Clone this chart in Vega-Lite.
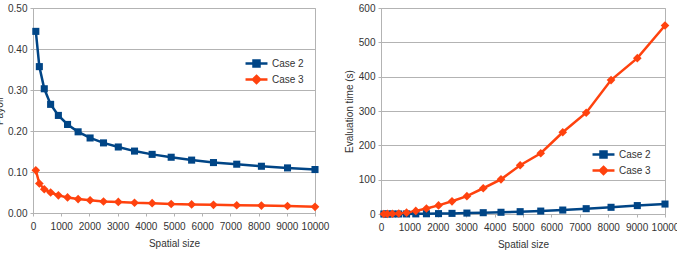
{
  "$schema": "https://vega.github.io/schema/vega-lite/v6.json",
  "padding": {"left": -6, "top": 2, "right": 0, "bottom": 0},
  "bounds": "flush",
  "spacing": 66,
  "background": "white",
  "config": {
    "font": "Liberation Sans",
    "view": {"stroke": "#b3b3b3", "strokeWidth": 1},
    "axis": {
      "labelFont": "Liberation Sans",
      "titleFont": "Liberation Sans",
      "labelFontSize": 10,
      "titleFontSize": 10,
      "titleFontWeight": "normal",
      "labelColor": "#333333",
      "titleColor": "#333333",
      "domainColor": "#b3b3b3",
      "tickColor": "#b3b3b3",
      "gridColor": "#b3b3b3",
      "tickSize": 3
    },
    "legend": {
      "labelFont": "Liberation Sans",
      "labelFontSize": 10,
      "labelColor": "#333333",
      "padding": 0
    }
  },
  "datasets": {
    "payoff": [
      {"size": 100, "series": "Case 2", "value": 0.443},
      {"size": 225, "series": "Case 2", "value": 0.357},
      {"size": 400, "series": "Case 2", "value": 0.303},
      {"size": 625, "series": "Case 2", "value": 0.265},
      {"size": 900, "series": "Case 2", "value": 0.238},
      {"size": 1225, "series": "Case 2", "value": 0.216},
      {"size": 1600, "series": "Case 2", "value": 0.198},
      {"size": 2025, "series": "Case 2", "value": 0.183},
      {"size": 2500, "series": "Case 2", "value": 0.171},
      {"size": 3025, "series": "Case 2", "value": 0.161},
      {"size": 3600, "series": "Case 2", "value": 0.151},
      {"size": 4225, "series": "Case 2", "value": 0.143},
      {"size": 4900, "series": "Case 2", "value": 0.136},
      {"size": 5625, "series": "Case 2", "value": 0.129},
      {"size": 6400, "series": "Case 2", "value": 0.123},
      {"size": 7225, "series": "Case 2", "value": 0.119},
      {"size": 8100, "series": "Case 2", "value": 0.114},
      {"size": 9025, "series": "Case 2", "value": 0.110},
      {"size": 10000, "series": "Case 2", "value": 0.106},
      {"size": 100, "series": "Case 3", "value": 0.104},
      {"size": 225, "series": "Case 3", "value": 0.072},
      {"size": 400, "series": "Case 3", "value": 0.058},
      {"size": 625, "series": "Case 3", "value": 0.050},
      {"size": 900, "series": "Case 3", "value": 0.043},
      {"size": 1225, "series": "Case 3", "value": 0.038},
      {"size": 1600, "series": "Case 3", "value": 0.034},
      {"size": 2025, "series": "Case 3", "value": 0.031},
      {"size": 2500, "series": "Case 3", "value": 0.028},
      {"size": 3025, "series": "Case 3", "value": 0.027},
      {"size": 3600, "series": "Case 3", "value": 0.025},
      {"size": 4225, "series": "Case 3", "value": 0.024},
      {"size": 4900, "series": "Case 3", "value": 0.022},
      {"size": 5625, "series": "Case 3", "value": 0.021},
      {"size": 6400, "series": "Case 3", "value": 0.020},
      {"size": 7225, "series": "Case 3", "value": 0.019},
      {"size": 8100, "series": "Case 3", "value": 0.018},
      {"size": 9025, "series": "Case 3", "value": 0.017},
      {"size": 10000, "series": "Case 3", "value": 0.015}
    ],
    "time": [
      {"size": 100, "series": "Case 2", "value": 0.0},
      {"size": 225, "series": "Case 2", "value": 0.0},
      {"size": 400, "series": "Case 2", "value": 0.1},
      {"size": 625, "series": "Case 2", "value": 0.1},
      {"size": 900, "series": "Case 2", "value": 0.2},
      {"size": 1225, "series": "Case 2", "value": 0.4},
      {"size": 1600, "series": "Case 2", "value": 0.7},
      {"size": 2025, "series": "Case 2", "value": 1.1},
      {"size": 2500, "series": "Case 2", "value": 1.8},
      {"size": 3025, "series": "Case 2", "value": 2.7},
      {"size": 3600, "series": "Case 2", "value": 3.8},
      {"size": 4225, "series": "Case 2", "value": 5.0},
      {"size": 4900, "series": "Case 2", "value": 6.8},
      {"size": 5625, "series": "Case 2", "value": 8.5},
      {"size": 6400, "series": "Case 2", "value": 11.5},
      {"size": 7225, "series": "Case 2", "value": 15.5},
      {"size": 8100, "series": "Case 2", "value": 19.5},
      {"size": 9025, "series": "Case 2", "value": 24.5},
      {"size": 10000, "series": "Case 2", "value": 29},
      {"size": 100, "series": "Case 3", "value": 0.1},
      {"size": 225, "series": "Case 3", "value": 0.3},
      {"size": 400, "series": "Case 3", "value": 0.7},
      {"size": 625, "series": "Case 3", "value": 1.5},
      {"size": 900, "series": "Case 3", "value": 4},
      {"size": 1225, "series": "Case 3", "value": 9},
      {"size": 1600, "series": "Case 3", "value": 16},
      {"size": 2025, "series": "Case 3", "value": 25},
      {"size": 2500, "series": "Case 3", "value": 37},
      {"size": 3025, "series": "Case 3", "value": 52},
      {"size": 3600, "series": "Case 3", "value": 75},
      {"size": 4225, "series": "Case 3", "value": 101},
      {"size": 4900, "series": "Case 3", "value": 142},
      {"size": 5625, "series": "Case 3", "value": 177},
      {"size": 6400, "series": "Case 3", "value": 238},
      {"size": 7225, "series": "Case 3", "value": 295},
      {"size": 8100, "series": "Case 3", "value": 390},
      {"size": 9025, "series": "Case 3", "value": 454},
      {"size": 10000, "series": "Case 3", "value": 549}
    ]
  },
  "resolve": {"scale": {"color": "independent"}},
  "hconcat": [
    {
      "width": 282,
      "height": 205,
      "data": {"name": "payoff"},
      "encoding": {
        "x": {"field": "size", "type": "quantitative", "title": "Spatial size",
              "scale": {"domain": [0, 10000], "nice": false},
              "axis": {"values": [0,1000,2000,3000,4000,5000,6000,7000,8000,9000,10000], "format": "d", "grid": false, "labelFlush": false, "labelOverlap": false, "labelPadding": 5, "titlePadding": 7}},
        "y": {"field": "value", "type": "quantitative", "title": "Payoff",
              "scale": {"domain": [0, 0.5], "nice": false},
              "axis": {"values": [0, 0.1, 0.2, 0.3, 0.4, 0.5], "format": ".2f", "labelPadding": 3, "titlePadding": 3}},
        "color": {"field": "series", "type": "nominal",
                  "scale": {"domain": ["Case 2", "Case 3"], "range": ["#004586", "#ff420e"]},
                  "legend": {"title": null, "orient": "none", "legendX": 216, "legendY": 48,
                             "symbolSize": 144, "symbolStrokeWidth": 2.5, "rowPadding": -3, "labelOffset": 8,
                             "encode": {"symbols": {"update": {
                               "shape": {"signal": "datum.value === 'Case 2' ? 'M-1.83,0H1.83M-0.5,-0.5H0.5V0.5H-0.5Z' : 'M-1.83,0H1.83M0,-0.6L0.6,0L0,0.6L-0.6,0Z'"},
                               "fill": {"signal": "datum.value === 'Case 2' ? '#004586' : '#ff420e'"},
                               "stroke": {"signal": "datum.value === 'Case 2' ? '#004586' : '#ff420e'"}
                             }}}}}
      },
      "layer": [
        {"mark": {"type": "line", "strokeWidth": 2.5}},
        {"transform": [{"filter": "datum.series === 'Case 2'"}],
         "mark": {"type": "point", "shape": "square", "filled": true, "size": 50, "opacity": 1}},
        {"transform": [{"filter": "datum.series === 'Case 3'"}],
         "mark": {"type": "point", "shape": "diamond", "filled": true, "size": 75, "opacity": 1}}
      ]
    },
    {
      "width": 284,
      "height": 206,
      "data": {"name": "time"},
      "encoding": {
        "x": {"field": "size", "type": "quantitative", "title": "Spatial size",
              "scale": {"domain": [0, 10000], "nice": false},
              "axis": {"values": [0,1000,2000,3000,4000,5000,6000,7000,8000,9000,10000], "format": "d", "grid": false, "labelFlush": false, "labelOverlap": false, "labelPadding": 5, "titlePadding": 7}},
        "y": {"field": "value", "type": "quantitative", "title": "Evaluation time (s)",
              "scale": {"domain": [0, 600], "nice": false},
              "axis": {"values": [0, 100, 200, 300, 400, 500, 600], "labelPadding": 3, "titlePadding": 4}},
        "color": {"field": "series", "type": "nominal",
                  "scale": {"domain": ["Case 2", "Case 3"], "range": ["#004586", "#ff420e"]},
                  "legend": {"title": null, "orient": "none", "legendX": 215, "legendY": 139,
                             "symbolSize": 144, "symbolStrokeWidth": 2.5, "rowPadding": -4, "labelOffset": 8,
                             "encode": {"symbols": {"update": {
                               "shape": {"signal": "datum.value === 'Case 2' ? 'M-1.83,0H1.83M-0.5,-0.5H0.5V0.5H-0.5Z' : 'M-1.83,0H1.83M0,-0.6L0.6,0L0,0.6L-0.6,0Z'"},
                               "fill": {"signal": "datum.value === 'Case 2' ? '#004586' : '#ff420e'"},
                               "stroke": {"signal": "datum.value === 'Case 2' ? '#004586' : '#ff420e'"}
                             }}}}}
      },
      "layer": [
        {"mark": {"type": "line", "strokeWidth": 2.5}},
        {"transform": [{"filter": "datum.series === 'Case 2'"}],
         "mark": {"type": "point", "shape": "square", "filled": true, "size": 50, "opacity": 1}},
        {"transform": [{"filter": "datum.series === 'Case 3'"}],
         "mark": {"type": "point", "shape": "diamond", "filled": true, "size": 75, "opacity": 1}}
      ]
    }
  ]
}
